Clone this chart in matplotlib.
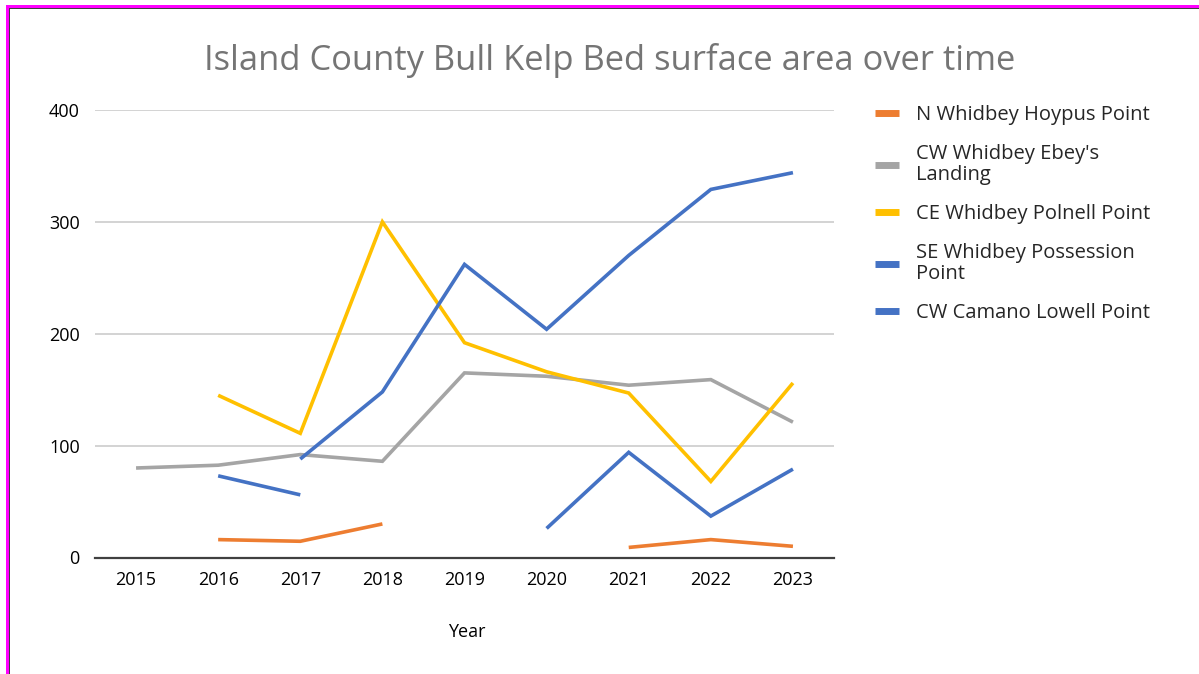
import numpy as np
import matplotlib
matplotlib.use("Agg")
import matplotlib.pyplot as plt
from matplotlib.patches import Rectangle
from matplotlib.lines import Line2D

plt.rcParams['font.family'] = ['Open Sans', 'DejaVu Sans']

years = ["2015", "2016", "2017", "2018", "2019", "2020", "2021", "2022", "2023"]
nan = np.nan
n_whidbey_hoypus = [nan, 16, 14.5, 30, nan, nan, 9, 16, 10]
cw_whidbey_ebeys = [80, 82.5, 92, 86, 165, 162, 154, 159, 121]
ce_whidbey_polnell = [nan, 145, 111, 300, 192, 166, 147, 68, 156]
se_whidbey_possession = [nan, 73, 56, nan, nan, 26, 94, 37, 79]
cw_camano_lowell = [nan, nan, 88, 148, 262, 204, 270, 329, 344]

labels = ["N Whidbey Hoypus Point", "CW Whidbey Ebey's\nLanding",
          "CE Whidbey Polnell Point", "SE Whidbey Possession\nPoint",
          "CW Camano Lowell Point"]
series = [n_whidbey_hoypus, cw_whidbey_ebeys, ce_whidbey_polnell,
          se_whidbey_possession, cw_camano_lowell]
colors = ["#ED7D31", "#A5A5A5", "#FFC000", "#4472C4", "#4472C4"]

W, H = 1199, 674
fig = plt.figure(figsize=(W / 100, H / 100), dpi=100)
fig.patch.set_facecolor("white")

ax = fig.add_axes([95 / W, 1 - 557.5 / H, (834 - 95) / W, (557.5 - 110) / H])
x = np.arange(len(years))
for s, c, l in zip(series, colors, labels):
    ax.plot(x, np.array(s, dtype=float), color=c, lw=2.6, label=l,
            solid_capstyle="butt", solid_joinstyle="miter")

ax.set_xlim(-0.5, len(years) - 0.5)
ax.set_ylim(0, 400)
ax.set_yticks([0, 100, 200, 300, 400])
ax.set_xticks(x)
ax.set_xticklabels(years)
ax.tick_params(axis="both", length=0, labelsize=13, colors="#000000")
ax.tick_params(axis="x", pad=10)
ax.tick_params(axis="y", pad=11)
ax.grid(axis="y", color="#D0D0D0", lw=1.3)
ax.set_axisbelow(True)
for sp in ["top", "right", "left"]:
    ax.spines[sp].set_visible(False)
ax.spines["bottom"].set_color("#404040")
ax.spines["bottom"].set_linewidth(1.6)
ax.spines["bottom"].set_zorder(3)

fig.text(467 / W, 1 - 632 / H, "Year", ha="center", va="center", fontsize=13, color="#000000")
fig.text(610 / W, 1 - 60 / H, "Island County Bull Kelp Bed surface area over time",
         ha="center", va="center", fontsize=24.8, color="#757575")

handles = [Line2D([0], [0], color=c, lw=5, solid_capstyle="butt") for c in colors]
leg = fig.legend(handles, labels, loc="upper left", bbox_to_anchor=(875 / W, 1 - 105 / H),
                 frameon=False, fontsize=14.5, handlelength=1.2, handletextpad=0.83,
                 labelspacing=0.95, borderaxespad=0, borderpad=0)
for t in leg.get_texts():
    t.set_color("#262626")
    t.set_linespacing(1.05)

# magenta frame on top and left
fig.patches.append(Rectangle((6 / W, 0), 2.5 / W, 1 - 5 / H, transform=fig.transFigure,
                             facecolor="#FF00FF", edgecolor="none"))
fig.patches.append(Rectangle((6 / W, 1 - 8 / H), 1 - 6 / W, 3 / H, transform=fig.transFigure,
                             facecolor="#FF00FF", edgecolor="none"))
fig.patches.append(Rectangle((8.5 / W, 0), 1 / W, 1 - 8 / H, transform=fig.transFigure,
                             facecolor="#404040", edgecolor="none"))
fig.patches.append(Rectangle((8.5 / W, 1 - 9 / H), 1, 1 / H, transform=fig.transFigure,
                             facecolor="#404040", edgecolor="none"))

fig.savefig("out.png", dpi=100, facecolor="white")
